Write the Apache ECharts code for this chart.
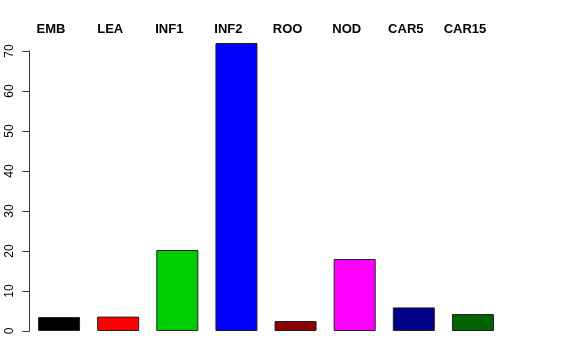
<!DOCTYPE html>
<html>
<head>
<meta charset="utf-8">
<script src="https://cdn.jsdelivr.net/npm/echarts@6/dist/echarts.min.js"></script>
<style>html,body{margin:0;padding:0;background:#fff;}#c{width:576px;height:360px;}</style>
</head>
<body>
<div id="c"></div>
<script>
const categories = ['EMB', 'LEA', 'INF1', 'INF2', 'ROO', 'NOD', 'CAR5', 'CAR15'];
const values = [3.5, 3.6, 20.25, 72, 2.5, 18, 5.9, 4.25];
const barColors = ['#000000', '#FF0000', '#00CD00', '#0000FF', '#8B0000', '#FF00FF', '#00008B', '#006400'];
const yTicks = [0, 10, 20, 30, 40, 50, 60, 70];

const chart = echarts.init(document.getElementById('c'), null, {renderer: 'canvas'});
chart.setOption({
  animation: false,
  backgroundColor: '#ffffff',
  grid: {left: 29.5, right: 73.5, top: 51, bottom: 29, containLabel: false},
  xAxis: [
    {type: 'category', data: categories, position: 'bottom',
     axisLine: {show: false}, axisTick: {show: false}, axisLabel: {show: false}},
    {type: 'category', data: categories, position: 'top',
     axisLine: {show: false}, axisTick: {show: false},
     axisLabel: {show: true, interval: 0, margin: 15, color: '#000', fontWeight: 'bold',
       fontSize: 13, fontFamily: 'Liberation Sans, Arial, sans-serif', padding: [0, 16, 0, 0]}}
  ],
  yAxis: {
    type: 'value', min: yTicks[0], max: yTicks[yTicks.length - 1], interval: 10,
    axisLine: {show: true, lineStyle: {color: '#333', width: 1}},
    axisTick: {show: true, length: 7, inside: false, lineStyle: {color: '#333'}},
    axisLabel: {rotate: 90, margin: 14, color: '#000', fontSize: 12,
      fontFamily: 'Liberation Sans, Arial, sans-serif'},
    splitLine: {show: false}
  },
  series: [{
    type: 'bar',
    clip: false,
    xAxisIndex: 0,
    barWidth: 42,
    data: values.map((v, i) => ({value: v, itemStyle: {color: barColors[i]}})),
    itemStyle: {borderColor: '#222', borderWidth: 1}
  }]
});
</script>
</body>
</html>
